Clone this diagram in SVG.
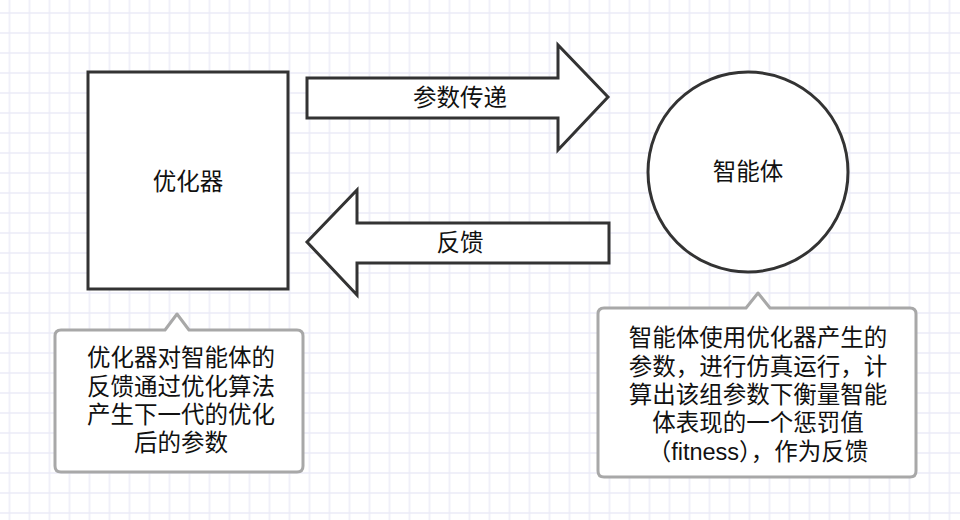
<svg xmlns="http://www.w3.org/2000/svg" width="960" height="520" viewBox="0 0 960 520">
  <defs>
    <pattern id="grid" x="-0.5" y="3" width="20" height="20" patternUnits="userSpaceOnUse">
      <path d="M10 0V20M0 10H20" stroke="#ebebf7" stroke-width="1.5" fill="none"/>
    </pattern>
    <filter id="soft" x="-5%" y="-5%" width="110%" height="110%">
      <feGaussianBlur stdDeviation="0.6"/>
    </filter>
  </defs>
  <style>
    .shape { fill: #ffffff; stroke: #333333; stroke-width: 3; stroke-linejoin: miter; }
    .note { fill: #ffffff; stroke: #a8a8a8; stroke-width: 3; stroke-linejoin: round; }
    text { font-family: "Liberation Sans", "Noto Sans CJK SC", sans-serif; font-size: 23.5px; fill: #111111; text-anchor: middle; dominant-baseline: central; }
  </style>

  <rect width="960" height="520" fill="#ffffff"/>
  <rect width="960" height="520" fill="url(#grid)"/>

  <!-- optimizer -->
  <g id="optimizer">
    <rect class="shape" x="88" y="72" width="200" height="217"/>
    <text x="188" y="182">优化器</text>
  </g>

  <!-- agent -->
  <g id="agent">
    <circle class="shape" cx="748" cy="172" r="100"/>
    <text x="748" y="172">智能体</text>
  </g>

  <!-- block arrows between the two nodes -->
  <g id="connectors">
    <g id="param-arrow">
      <polygon class="shape" points="307,78 558,78 558,45 608,97 558,150 558,118 307,118"/>
      <text x="460" y="98">参数传递</text>
    </g>
    <g id="feedback-arrow">
      <polygon class="shape" points="609,223 357,223 357,190 307,242 357,295 357,263 609,263"/>
      <text x="460" y="243">反馈</text>
    </g>
  </g>

  <!-- callout notes -->
  <g id="optimizer-note">
    <path class="note" filter="url(#soft)" d="M61,330 H165 L177,314 L189,330 H297 Q303,330 303,336 V466 Q303,472 297,472 H61 Q55,472 55,466 V336 Q55,330 61,330 Z"/>
    <text x="181" y="358">优化器对智能体的</text>
    <text x="181" y="387">反馈通过优化算法</text>
    <text x="181" y="415">产生下一代的优化</text>
    <text x="181" y="443">后的参数</text>
  </g>

  <g id="agent-note">
    <path class="note" filter="url(#soft)" d="M604,308 H746 L758,293 L770,308 H910 Q916,308 916,314 V471 Q916,477 910,477 H604 Q598,477 598,471 V314 Q598,308 604,308 Z"/>
    <text x="758" y="338">智能体使用优化器产生的</text>
    <text x="758" y="367">参数，进行仿真运行，计</text>
    <text x="758" y="395">算出该组参数下衡量智能</text>
    <text x="758" y="423">体表现的一个惩罚值</text>
    <text x="758" y="452">（fitness），作为反馈</text>
  </g>
</svg>
